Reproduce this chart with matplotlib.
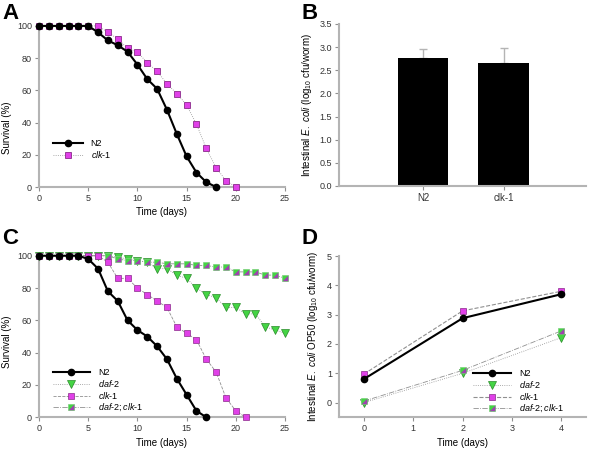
import matplotlib
matplotlib.use('Agg')
import matplotlib.pyplot as plt
import numpy as np

plt.rcParams['font.family'] = ['Liberation Sans', 'DejaVu Sans']
plt.rcParams['mathtext.fontset'] = 'custom'
plt.rcParams['mathtext.rm'] = 'Liberation Sans'
plt.rcParams['mathtext.it'] = 'Liberation Sans:italic'
plt.rcParams['font.size'] = 6.5

# Panel A: survival
a_n2_days = list(range(0, 19))
a_n2 = [100, 100, 100, 100, 100, 100, 96, 91, 88, 84, 76, 67, 61, 48, 33, 19, 9, 3, 0]
a_clk1_days = list(range(0, 21))
a_clk1 = [100, 100, 100, 100, 100, 100, 100, 96, 92, 86, 84, 77, 72, 64, 58, 51, 39, 24, 12, 4, 0]

# Panel B: intestinal E. coli
b_strains = ['N2', 'clk-1']
b_values = [2.77, 2.65]
b_err = [0.18, 0.33]

# Panel C: survival
c_n2_days = list(range(0, 18))
c_n2 = [100, 100, 100, 100, 100, 98, 92, 78, 72, 60, 54, 50, 44, 36, 24, 14, 4, 0]
c_daf2_days = list(range(0, 26))
c_daf2 = [100, 100, 100, 100, 100, 100, 100, 100, 99, 98, 97, 96, 92, 92, 88, 86,
          80, 76, 74, 68, 68, 64, 64, 56, 54, 52]
c_clk1_days = list(range(0, 22))
c_clk1 = [100, 100, 100, 100, 100, 100, 100, 96, 86, 86, 80, 76, 72, 68, 56, 52,
          48, 36, 28, 12, 4, 0]
c_double_days = list(range(0, 26))
c_double = [100, 100, 100, 100, 100, 100, 100, 100, 98, 97, 97, 96, 96, 95, 95, 95,
            94, 94, 93, 93, 90, 90, 90, 88, 88, 86]

# Panel D: E. coli accumulation over time
d_days = [0, 2, 4]
d_n2 = [0.80, 2.88, 3.70]
d_daf2 = [0.00, 1.00, 2.22]
d_clk1 = [0.97, 3.13, 3.80]
d_double = [0.05, 1.10, 2.45]

MAGENTA = '#e040e8'
GREEN = '#44d444'
GREY = '#b4b4b4'
LINEGREY = '#909090'
MS = 4.5

# purple lower-right half of the double-mutant square
half_tri = [(1, 1), (1, -1), (-1, -1), (1, 1)]


def style_axes(ax):
    for s in ['top', 'right']:
        ax.spines[s].set_visible(False)
    for s in ['left', 'bottom']:
        ax.spines[s].set_color(GREY)
        ax.spines[s].set_linewidth(1.5)
    ax.tick_params(colors=LINEGREY, labelcolor='#333333', length=3, width=0.8,
                   labelsize=6.5, pad=2)


def legend_at(ax, handles, labels, x, y, hl):
    ax.legend(handles, labels, loc='upper left', bbox_to_anchor=(x, y),
              bbox_transform=fig.transFigure, frameon=False, fontsize=6.5,
              borderpad=0, borderaxespad=0, handlelength=hl, handletextpad=0.9,
              labelspacing=0.1, numpoints=1)


fig = plt.figure(figsize=(6, 4.5), dpi=100)

axA = fig.add_axes([0.065, 0.5844, 0.41, 0.358])
axB = fig.add_axes([0.565, 0.5867, 0.412, 0.36])
axC = fig.add_axes([0.065, 0.0727, 0.41, 0.359])
axD = fig.add_axes([0.565, 0.0727, 0.412, 0.3583])

# ---- A ----
axA.plot(a_n2_days, a_n2, color='black', lw=1.5, marker='o', ms=MS,
         mfc='black', mec='black', label='N2', clip_on=False, zorder=4)
axA.plot(a_clk1_days, a_clk1, color=LINEGREY, lw=0.6, ls=':', marker='s', ms=MS,
         mfc=MAGENTA, mec='#8a2a8a', mew=0.6, label='$\\it{clk}$-$\\it{1}$',
         clip_on=False, zorder=3)
axA.set_xlim(0, 25)
axA.set_ylim(0, 100)
axA.set_xticks([0, 5, 10, 15, 20, 25])
axA.set_yticks([0, 20, 40, 60, 80, 100])
axA.set_xlabel('Time (days)', fontsize=7, va='center')
axA.xaxis.set_label_coords(0.5, -0.155)
axA.set_ylabel('Survival (%)', fontsize=7, va='center')
axA.yaxis.set_label_coords(-0.132, 0.37)
style_axes(axA)
h, l = axA.get_legend_handles_labels()
legend_at(axA, h, l, 0.088, 0.69, 3.3)

# ---- B ----
xb = np.arange(len(b_strains))
axB.bar(xb, b_values, width=0.63, color='black', zorder=2)
axB.errorbar(xb, b_values, yerr=[[0, 0], b_err], fmt='none', ecolor=GREY,
             elinewidth=1, capsize=3, capthick=1, zorder=1)
axB.set_xlim(-1.04, 2.02)
axB.set_ylim(0, 3.5)
axB.set_xticks(xb)
axB.set_yticks(np.arange(0, 3.6, 0.5))
axB.set_yticklabels(['%.1f' % v for v in np.arange(0, 3.6, 0.5)])
axB.set_ylabel('Intestinal $\\it{E.\\ coli}$ (log$_{10}$ cfu/worm)', fontsize=7, va='center')
axB.yaxis.set_label_coords(-0.13, 0.5)
style_axes(axB)
axB.set_xticklabels(b_strains, fontsize=7)

# ---- C ----
axC.plot(c_n2_days, c_n2, color='black', lw=1.5, marker='o', ms=MS,
         mfc='black', mec='black', label='N2', clip_on=False, zorder=5)
axC.plot(c_daf2_days, c_daf2, color=LINEGREY, lw=0.6, ls=':', marker='v', ms=5.5,
         mfc=GREEN, mec='#2a8a2a', mew=0.5, label='$\\it{daf}$-$\\it{2}$',
         clip_on=False, zorder=3)
axC.plot(c_clk1_days, c_clk1, color=LINEGREY, lw=0.6, ls='--', marker='s', ms=MS,
         mfc=MAGENTA, mec='#8a2a8a', mew=0.5, label='$\\it{clk}$-$\\it{1}$',
         clip_on=False, zorder=4)
lc, = axC.plot(c_double_days, c_double, color=LINEGREY, lw=0.6, ls='-.', marker='s',
               ms=MS, mfc=GREEN, mec='#7ad07a', mew=0.5, clip_on=False, zorder=3)
mc, = axC.plot(c_double_days, c_double, ls='none', marker=half_tri, ms=MS - 0.5,
               mfc='#a040b0', mec='none', clip_on=False, zorder=3)
axC.set_xlim(0, 25)
axC.set_ylim(0, 100)
axC.set_xticks([0, 5, 10, 15, 20, 25])
axC.set_yticks([0, 20, 40, 60, 80, 100])
axC.set_xlabel('Time (days)', fontsize=7, va='center')
axC.xaxis.set_label_coords(0.5, -0.16)
axC.set_ylabel('Survival (%)', fontsize=7, va='center')
axC.yaxis.set_label_coords(-0.132, 0.47)
style_axes(axC)
h, l = axC.get_legend_handles_labels()
legend_at(axC, h + [(lc, mc)], l + ['$\\it{daf}$-$\\it{2;clk}$-$\\it{1}$'],
          0.088, 0.182, 4.1)

# ---- D ----
axD.plot(d_days, d_n2, color='black', lw=1.5, marker='o', ms=MS,
         mfc='black', mec='black', label='N2', zorder=5)
axD.plot(d_days, d_daf2, color=LINEGREY, lw=0.6, ls=':', marker='v', ms=5.5,
         mfc=GREEN, mec='#2a8a2a', mew=0.5, label='$\\it{daf}$-$\\it{2}$', zorder=3)
axD.plot(d_days, d_clk1, color=LINEGREY, lw=0.8, ls='--', marker='s', ms=MS,
         mfc=MAGENTA, mec='#8a2a8a', mew=0.5, label='$\\it{clk}$-$\\it{1}$', zorder=4)
ld, = axD.plot(d_days, d_double, color=LINEGREY, lw=0.6, ls='-.', marker='s',
               ms=MS, mfc=GREEN, mec='#7ad07a', mew=0.5, zorder=3)
md, = axD.plot(d_days, d_double, ls='none', marker=half_tri, ms=MS - 0.5,
               mfc='#a040b0', mec='none', zorder=3)
axD.set_xlim(-0.5, 4.5)
axD.set_ylim(-0.5, 5)
axD.set_xticks([0, 1, 2, 3, 4])
axD.set_yticks([0, 1, 2, 3, 4, 5])
axD.set_xlabel('Time (days)', fontsize=7, va='center')
axD.xaxis.set_label_coords(0.5, -0.16)
axD.set_ylabel('Intestinal $\\it{E.\\ coli}$ OP50 (log$_{10}$ cfu/worm)', fontsize=7, va='center')
axD.yaxis.set_label_coords(-0.105, 0.5)
style_axes(axD)
h, l = axD.get_legend_handles_labels()
legend_at(axD, h + [(ld, md)], l + ['$\\it{daf}$-$\\it{2;clk}$-$\\it{1}$'],
          0.788, 0.18, 4.2)

# panel letters
for x, y, t in [(0.004, 0.994, 'A'), (0.502, 0.994, 'B'),
                (0.004, 0.494, 'C'), (0.502, 0.494, 'D')]:
    fig.text(x, y, t, fontsize=16, fontweight='bold', va='top', ha='left')

fig.savefig('out.png', dpi=100)
